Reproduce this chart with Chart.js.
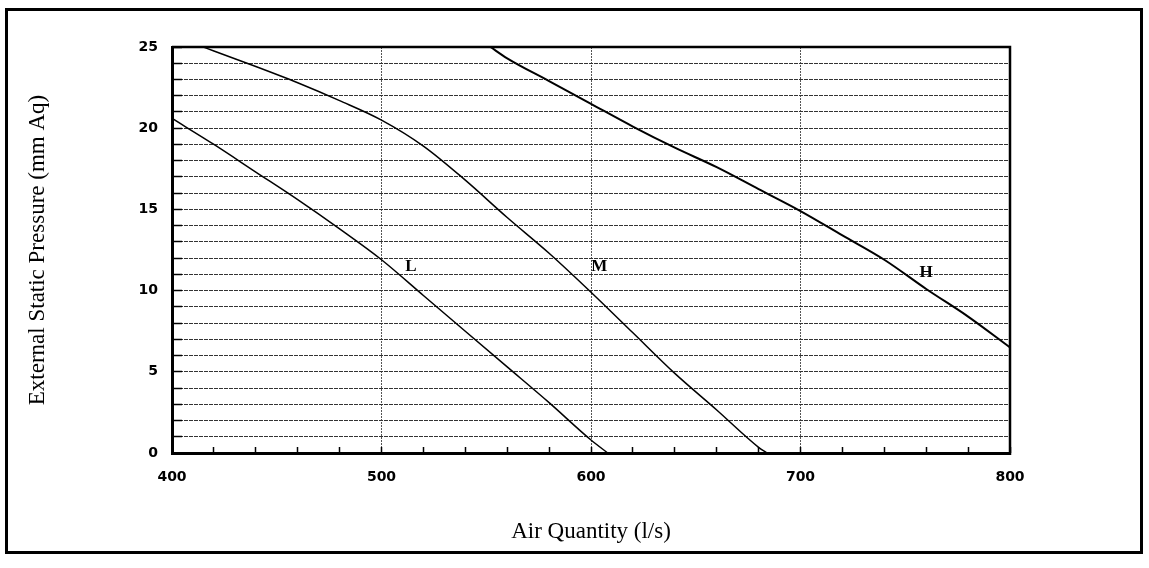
<!DOCTYPE html>
<html>
<head>
<meta charset="utf-8">
<script src="https://cdn.jsdelivr.net/npm/chart.js@4.4.0/dist/chart.umd.min.js"></script>
<style>
  html, body { margin: 0; padding: 0; background: #fff; }
  #wrap { position: relative; width: 1149px; height: 568px; }
  #frame { position: absolute; left: 5px; top: 8px; width: 1132px; height: 540px; border: 3px solid #000; pointer-events: none; }
  #chartFan { position: absolute; left: 0; top: 0; }
</style>
</head>
<body>
<div id="wrap">
  <canvas id="chartFan" width="1149" height="568"></canvas>
  <div id="frame"></div>
</div>
<script>
// fan curves (air l/s vs pressure mm Aq)
const airL = [400, 420, 440, 460, 480, 500, 520, 540, 560, 580, 600, 608];
const pressL = [20.6, 19.0, 17.3, 15.6, 13.8, 11.9, 9.7, 7.5, 5.3, 3.1, 0.8, 0];

const airM = [415, 420, 440, 460, 480, 500, 520, 540, 560, 580, 600, 620, 640, 660, 680, 684];
const pressM = [25, 24.75, 23.8, 22.8, 21.7, 20.5, 18.9, 16.8, 14.5, 12.3, 9.9, 7.4, 4.9, 2.65, 0.35, 0];

const airH = [552, 560, 580, 600, 620, 640, 660, 680, 700, 720, 740, 760, 780, 800];
const pressH = [25, 24.3, 22.9, 21.5, 20.1, 18.8, 17.6, 16.25, 14.9, 13.4, 11.9, 10.1, 8.4, 6.5];

// curve labels
const curveNames = ['L', 'M', 'H'];
const labelAir = [514, 604, 760];
const labelPress = [11.5, 11.5, 11.1];

const xTicks = [400, 500, 600, 700, 800];
const yTicks = [0, 5, 10, 15, 20, 25];

function toPoints(xs, ys) {
    return xs.map((x, i) => ({ x: x, y: ys[i] }));
}

// frame round the plot (top + right side)
const plotFrame = {
    id: 'plotFrame',
    afterDraw(chart) {
        const a = chart.chartArea;
        const ctx = chart.ctx;
        ctx.save();
        ctx.strokeStyle = '#000';
        ctx.lineWidth = 2.5;
        ctx.beginPath();
        ctx.moveTo(a.left, a.top);
        ctx.lineTo(a.right, a.top);
        ctx.lineTo(a.right, a.bottom);
        ctx.stroke();
        ctx.restore();
    }
};

// L / M / H letters next to the curves
const curveLabels = {
    id: 'curveLabels',
    afterDatasetsDraw(chart) {
        const ctx = chart.ctx;
        const sx = chart.scales.x, sy = chart.scales.y;
        ctx.save();
        ctx.fillStyle = '#000';
        ctx.font = 'bold 17px "Liberation Serif"';
        ctx.textAlign = 'center';
        ctx.textBaseline = 'middle';
        curveNames.forEach((n, i) => {
            ctx.fillText(n, sx.getPixelForValue(labelAir[i]), sy.getPixelForValue(labelPress[i]));
        });
        ctx.restore();
    }
};

const ctx = document.getElementById('chartFan').getContext('2d');
const chart = new Chart(ctx, {
    type: 'line',
    data: {
        datasets: [
            { label: 'L', data: toPoints(airL, pressL), borderColor: '#000', borderWidth: 1.5 },
            { label: 'M', data: toPoints(airM, pressM), borderColor: '#000', borderWidth: 1.5 },
            { label: 'H', data: toPoints(airH, pressH), borderColor: '#000', borderWidth: 2 }
        ]
    },
    options: {
        responsive: false,
        animation: false,
        parsing: false,
        layout: { padding: { left: 0, top: 47, right: 139, bottom: 0 } },
        elements: {
            point: { radius: 0 },
            line: { cubicInterpolationMode: 'monotone', fill: false }
        },
        plugins: {
            legend: { display: false },
            tooltip: { enabled: false }
        },
        scales: {
            x: {
                type: 'linear',
                min: 400,
                max: 800,
                afterFit: s => { s.height = 115; },
                ticks: {
                    stepSize: 20,
                    autoSkip: false,
                    maxRotation: 0,
                    padding: 22,
                    color: '#000',
                    font: { family: '"DejaVu Sans"', size: 14, weight: 'bold' },
                    callback: v => xTicks.includes(v) ? String(v) : ''
                },
                grid: {
                    color: c => (c.tick && xTicks.includes(c.tick.value) && c.tick.value > 400 && c.tick.value < 800) ? '#555' : 'rgba(0,0,0,0)',
                    lineWidth: 1,
                    tickLength: -6,
                    tickColor: '#000',
                    tickWidth: 1.5
                },
                border: { color: '#000', width: 3, dash: [2, 1] },
                title: {
                    display: true,
                    text: 'Air Quantity (l/s)',
                    color: '#000',
                    font: { family: '"Liberation Serif"', size: 23 },
                    padding: { top: 0, bottom: 22 }
                }
            },
            y: {
                min: 0,
                max: 25,
                afterFit: s => { s.width = 172; },
                ticks: {
                    stepSize: 1,
                    autoSkip: false,
                    padding: 24,
                    color: '#000',
                    font: { family: '"DejaVu Sans"', size: 14, weight: 'bold' },
                    callback: v => yTicks.includes(v) ? String(v) : ''
                },
                grid: {
                    color: '#333',
                    lineWidth: 1,
                    tickLength: -10,
                    tickColor: '#000',
                    tickWidth: 1.5
                },
                border: { color: '#000', width: 3, dash: [4, 1] },
                title: {
                    display: true,
                    text: 'External Static Pressure (mm Aq)',
                    color: '#000',
                    font: { family: '"Liberation Serif"', size: 23 },
                    padding: { top: 24, bottom: 0 }
                }
            }
        }
    },
    plugins: [plotFrame, curveLabels]
});
</script>
</body>
</html>
